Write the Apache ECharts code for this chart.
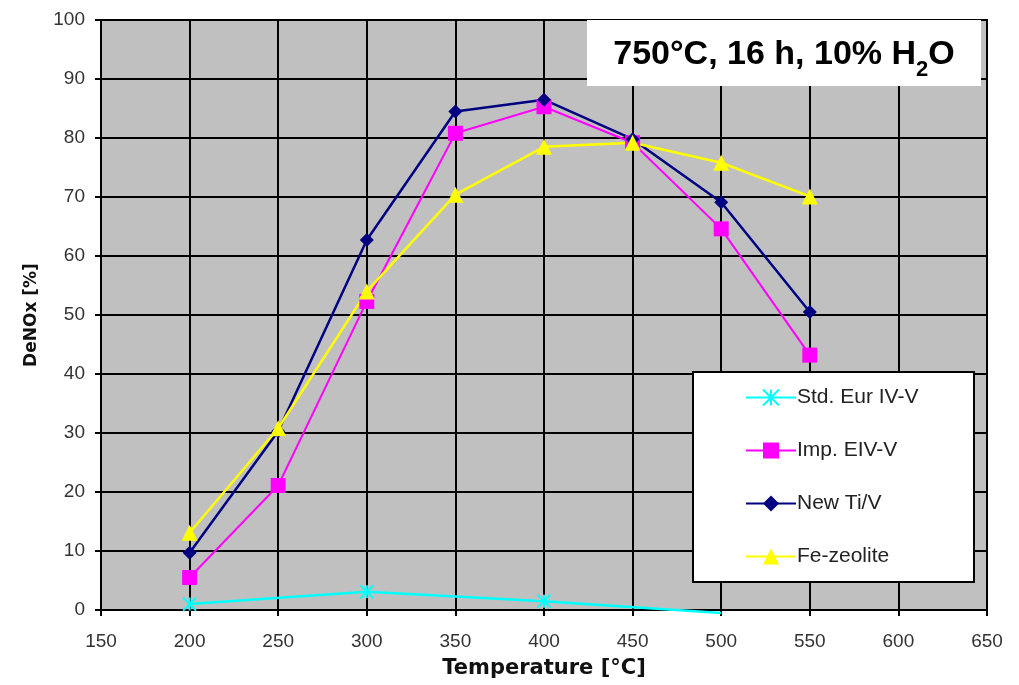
<!DOCTYPE html>
<html>
<head>
<meta charset="utf-8">
<script src="https://cdn.jsdelivr.net/npm/echarts@6/dist/echarts.min.js"></script>
<style>html,body{margin:0;padding:0;background:#fff;}#chart{width:1019px;height:685px;}</style>
</head>
<body>
<div id="chart"></div>
<script>
// ---- data ----
const temps = [200, 250, 300, 350, 400, 450, 500, 550];
const stdTemps = [200, 300, 400, 500];
const stdEurIVV = [1.0, 3.1, 1.5, -0.5];
const impEIVV = [5.5, 21.1, 52.3, 80.8, 85.3, 79.2, 64.6, 43.2];
const newTiV = [9.7, 30.3, 62.7, 84.5, 86.5, 79.8, 69.1, 50.5];
const feZeolite = [13.1, 30.8, 54.0, 70.4, 78.5, 79.2, 75.8, 70.1];
const seriesNames = ['Std. Eur IV-V', 'Imp. EIV-V', 'New Ti/V', 'Fe-zeolite'];
const xTitle = 'Temperature [°C]';
const yTitle = 'DeNOx [%]';

const pairs = (xs, ys) => xs.map((x, i) => [x, ys[i]]);
const chart = echarts.init(document.getElementById('chart'), null, {renderer: 'canvas'});
const font = 'Liberation Sans, Arial, sans-serif';
const wide = 'DejaVu Sans, Verdana, sans-serif';

chart.setOption({
  animation: false,
  grid: {left: 101, right: 32, top: 20, bottom: 75, show: true, backgroundColor: '#c0c0c0', borderColor: '#000', borderWidth: 2},
  xAxis: {
    type: 'value', min: 150, max: 650, interval: 50,
    name: xTitle, nameLocation: 'middle', nameGap: 48,
    nameTextStyle: {fontFamily: wide, fontWeight: 'bold', fontSize: 21, color: '#111'},
    axisLine: {lineStyle: {color: '#000', width: 2}},
    axisTick: {show: true, inside: false, length: 6, lineStyle: {color: '#000', width: 2}},
    axisLabel: {margin: 22, fontFamily: font, fontSize: 19, color: '#333'},
    splitLine: {show: true, lineStyle: {color: '#000', width: 2}}
  },
  yAxis: {
    type: 'value', min: 0, max: 100, interval: 10,
    name: yTitle, nameLocation: 'middle', nameGap: 61,
    nameTextStyle: {fontFamily: wide, fontWeight: 'bold', fontSize: 17, color: '#111'},
    axisLine: {show: true, lineStyle: {color: '#000', width: 2}},
    axisTick: {show: true, inside: false, length: 6, lineStyle: {color: '#000', width: 2}},
    axisLabel: {margin: 16, fontFamily: font, fontSize: 19, color: '#333'},
    splitLine: {show: true, lineStyle: {color: '#000', width: 2}}
  },
  legend: {
    orient: 'vertical', left: 745, top: 387, padding: 0, itemWidth: 50, itemHeight: 20, itemGap: 32,
    textStyle: {fontFamily: font, fontSize: 21, lineHeight: 20, color: '#222', padding: [0, 0, 0, -4]},
    data: seriesNames, z: 10
  },
  graphic: [
    {type: 'rect', z: 5, shape: {x: 693, y: 372, width: 281, height: 210}, style: {fill: '#fff', stroke: '#000', lineWidth: 2}},
    {type: 'rect', z: 5, shape: {x: 587, y: 20, width: 394, height: 66}, style: {fill: '#fff'}},
    {type: 'text', z: 6, x: 784, y: 55, style: {
      text: '{m|750°C, 16 h, 10% H}{s|2}{m|O}', align: 'center', verticalAlign: 'middle',
      rich: {
        m: {fontFamily: font, fontWeight: 'bold', fontSize: 34, color: '#111', lineHeight: 36},
        s: {fontFamily: font, fontWeight: 'bold', fontSize: 22, color: '#111', lineHeight: 52, verticalAlign: 'bottom'}
      }
    }}
  ],
  series: [
    {name: seriesNames[0], type: 'line', clip: false, data: pairs(stdTemps, stdEurIVV),
     symbol: 'path://M0,0L10,10M10,0L0,10M5,0L5,10', symbolSize: (v) => v[1] < 0 ? 0 : 13,
     lineStyle: {color: '#00ffff', width: 2.5}, itemStyle: {color: 'rgba(0,0,0,0)', borderColor: '#00ffff', borderWidth: 2}},
    {name: seriesNames[1], type: 'line', data: pairs(temps, impEIVV), symbol: 'rect', symbolSize: 15,
     lineStyle: {color: '#ff00ff', width: 2}, itemStyle: {color: '#ff00ff'}},
    {name: seriesNames[2], type: 'line', data: pairs(temps, newTiV), symbol: 'diamond', symbolSize: 14,
     lineStyle: {color: '#000080', width: 2.5}, itemStyle: {color: '#000080'}},
    {name: seriesNames[3], type: 'line', data: pairs(temps, feZeolite), symbol: 'triangle', symbolSize: 16,
     lineStyle: {color: '#ffff00', width: 2.5}, itemStyle: {color: '#ffff00'}}
  ]
});
</script>
</body>
</html>
